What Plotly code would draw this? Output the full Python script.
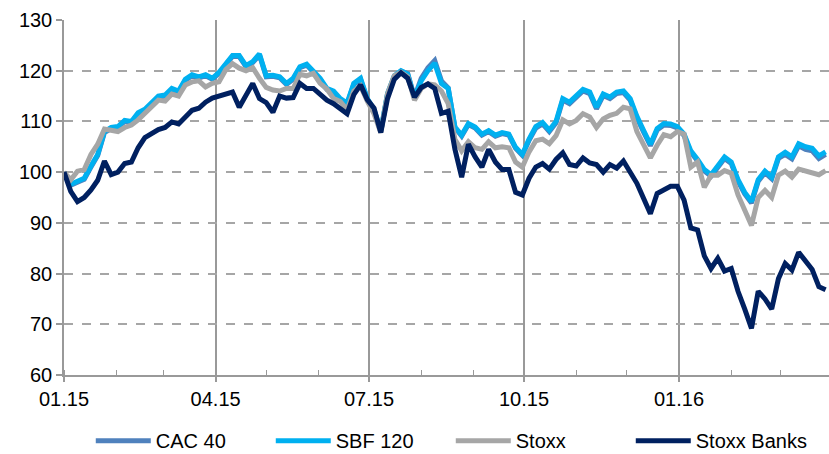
import pandas as pd
import plotly.graph_objects as go

dates = pd.date_range("2015-01-01", periods=114, freq="4D")

sbf120 = [100, 97.6, 98.2, 98.8, 101.2, 103.5, 108, 108.8, 109, 110.2,
          110, 111.7, 112.4, 113.8, 115, 115.2, 116.5, 116, 118.3, 119.2,
          118.8, 119.2, 118.5, 119.7, 121.5, 123, 123, 121, 121.8, 123.3,
          119, 119.1, 118.8, 117.5, 118.5, 120.8, 121.3, 120, 118.5, 116.5,
          116, 114.5, 113.6, 117.5, 118.5, 114.5, 112.3, 108.2, 115.5, 119,
          120, 119.3, 114.6, 118, 120, 121.5, 117.5, 116.5, 108.9, 107.3,
          109.6, 108.9, 107.5, 108.2, 107.3, 107.8, 107.5, 104.9, 103.5, 106.5,
          109, 109.8, 108.3, 110, 114.5, 113.8, 115.2, 116.3, 115.8, 112.8,
          115.4, 114.8, 115.8, 116, 114.5, 111, 108.2, 105.5, 108.6, 109.6,
          109.5, 109, 107.5, 104.2, 102.5, 100.5, 99.5, 101.2, 103, 102,
          98.5, 96, 94.2, 98.5, 100.2, 99, 103, 103.9, 103, 105.6,
          105, 104.7, 103.2, 104]

cac40 = [100, 97.4, 98.0, 98.6, 101.0, 103.3, 107.8, 108.6, 108.8, 110.0,
         109.8, 111.5, 112.2, 113.6, 114.8, 115.0, 116.3, 115.8, 118.1, 119.0,
         118.6, 119.0, 118.3, 119.5, 121.3, 122.8, 122.8, 120.8, 121.6, 123.1,
         118.8, 118.9, 118.6, 117.3, 118.3, 120.6, 121.1, 119.8, 118.3, 116.3,
         115.8, 114.3, 113.4, 117.3, 118.3, 114.3, 112.1, 108.0, 115.3, 118.8,
         119.9, 119.4, 114.8, 118.5, 120.6, 122.0, 118.0, 116.6, 108.8, 107.1,
         109.4, 108.7, 107.3, 108.0, 107.1, 107.6, 107.3, 104.7, 103.3, 106.3,
         108.7, 109.5, 108.0, 109.7, 114.2, 113.5, 114.9, 116.0, 115.5, 112.5,
         115.1, 114.5, 115.5, 115.7, 114.2, 110.7, 107.9, 105.2, 108.3, 109.3,
         109.2, 108.7, 107.2, 103.9, 102.2, 100.2, 99.2, 100.9, 102.7, 101.7,
         98.2, 95.7, 93.9, 98.2, 99.9, 98.7, 102.7, 103.5, 102.6, 105.2,
         104.5, 104.2, 102.7, 103.5]

stoxx = [100, 98.5, 100.2, 100.5, 103.5, 105.5, 108.5, 108.2, 108, 108.8,
         109.3, 110.3, 111.5, 113, 114.2, 114, 115.4, 115, 117.2, 117.8,
         118, 116.8, 117.5, 117.8, 120.2, 121.4, 120.5, 120, 120.6, 118.5,
         116.7, 116.2, 116, 116.5, 116.5, 119.3, 119, 119.5, 117.5, 116.4,
         114.5, 113.9, 112.3, 116, 117, 114, 111.5, 107.8, 115.5, 119,
         119.7, 118.8, 114.2, 116.5, 117.4, 117.2, 116, 113.5, 106.5, 104.2,
         106, 104.8, 104.5, 106, 104.8, 105, 104.8, 102, 101, 104,
         106.2, 106.5, 105.6, 107.2, 110.3, 109.5, 110.2, 111.5, 110.9, 108.8,
         110.5, 111.2, 111.6, 112.8, 112.5, 108, 105.5, 102.8, 105.3, 107.4,
         107, 108, 107.5, 101, 102, 97, 99.4, 99.4, 100.3, 99.8,
         95.5, 92.5, 89.5, 95, 96.4, 95, 99.4, 100.2, 99, 100.6,
         100.2, 99.8, 99.5, 100.3]

stoxx_banks = [100, 96.2, 94.2, 95, 96.5, 98.4, 102.2, 99.5, 100, 101.7,
               102, 104.8, 106.8, 107.6, 108.4, 108.8, 109.9, 109.5, 110.8, 112.2,
               112.6, 113.8, 114.6, 115, 115.4, 115.8, 112.8, 115, 117.5, 114.5,
               113.7, 111.8, 115, 114.6, 114.7, 117.5, 116.5, 116.5, 115.2, 114.2,
               113.5, 112.5, 111.5, 115.3, 117.2, 114.3, 112.6, 107.8, 114.5, 118.3,
               119.6, 118.5, 114.8, 116.7, 117.4, 116.5, 111.6, 112, 104.5, 99,
               105.5, 103, 101, 104.5, 102, 100.5, 100.5, 96, 95.5, 98.8,
               101, 101.7, 100.6, 102.5, 103.8, 101.5, 101.2, 102.8, 101.8, 101.5,
               100, 101.5, 100.8, 102.2, 100, 97.8, 94.8, 91.8, 95.8, 96.5,
               97.2, 97.2, 94.5, 89, 88.6, 83.5, 81, 83, 80.5, 81,
               76.5, 73, 69.2, 76.5, 75, 73, 79, 82, 80.7, 84.2,
               82.5, 80.8, 77.4, 76.8]

series = [
    ("CAC 40", cac40, "#4F81BD"),
    ("SBF 120", sbf120, "#00B0F0"),
    ("Stoxx", stoxx, "#A6A6A6"),
    ("Stoxx Banks", stoxx_banks, "#002060"),
]

fig = go.Figure()
for name, vals, color in series:
    fig.add_trace(go.Scatter(x=dates, y=vals, name=name, mode="lines",
                             line=dict(color=color, width=5)))

font = dict(family="Liberation Sans, Arial, sans-serif", size=20, color="#000000")

fig.update_layout(
    width=829, height=454,
    margin=dict(l=64, r=0, t=20, b=79, autoexpand=False),
    paper_bgcolor="white", plot_bgcolor="white",
    font=font,
    showlegend=True,
    legend=dict(orientation="h", x=0.035, xanchor="left", y=-0.13, yanchor="top",
                itemwidth=55, entrywidth=110, entrywidthmode="pixels",
                font=font, traceorder="normal",
                bgcolor="rgba(0,0,0,0)"),
)

fig.update_xaxes(
    type="date", range=["2015-01-01", "2016-03-30"],
    tick0="2015-01-01", dtick="M3", tickformat="%m.%y",
    ticks="outside", ticklen=5, tickcolor="#999999", tickwidth=1.5,
    showgrid=True, gridcolor="#999999", gridwidth=1.5,
    showline=True, linecolor="#999999", linewidth=1.5,
    minor=dict(dtick="M1", ticks="inside", ticklen=5, tickcolor="#999999",
               tickwidth=1, showgrid=False),
    zeroline=False, tickfont=font, automargin=False,
)
fig.update_yaxes(
    range=[60, 130], dtick=10,
    ticks="outside", ticklen=6, tickcolor="#999999", tickwidth=1.5,
    showgrid=True, gridcolor="#A6A6A6", gridwidth=1.5, griddash="dash",
    showline=True, linecolor="#999999", linewidth=1.5,
    zeroline=False, tickfont=font, automargin=False,
)

fig.write_html("out.html", config={"displayModeBar": False},
               post_script="document.body.style.margin='0';")
